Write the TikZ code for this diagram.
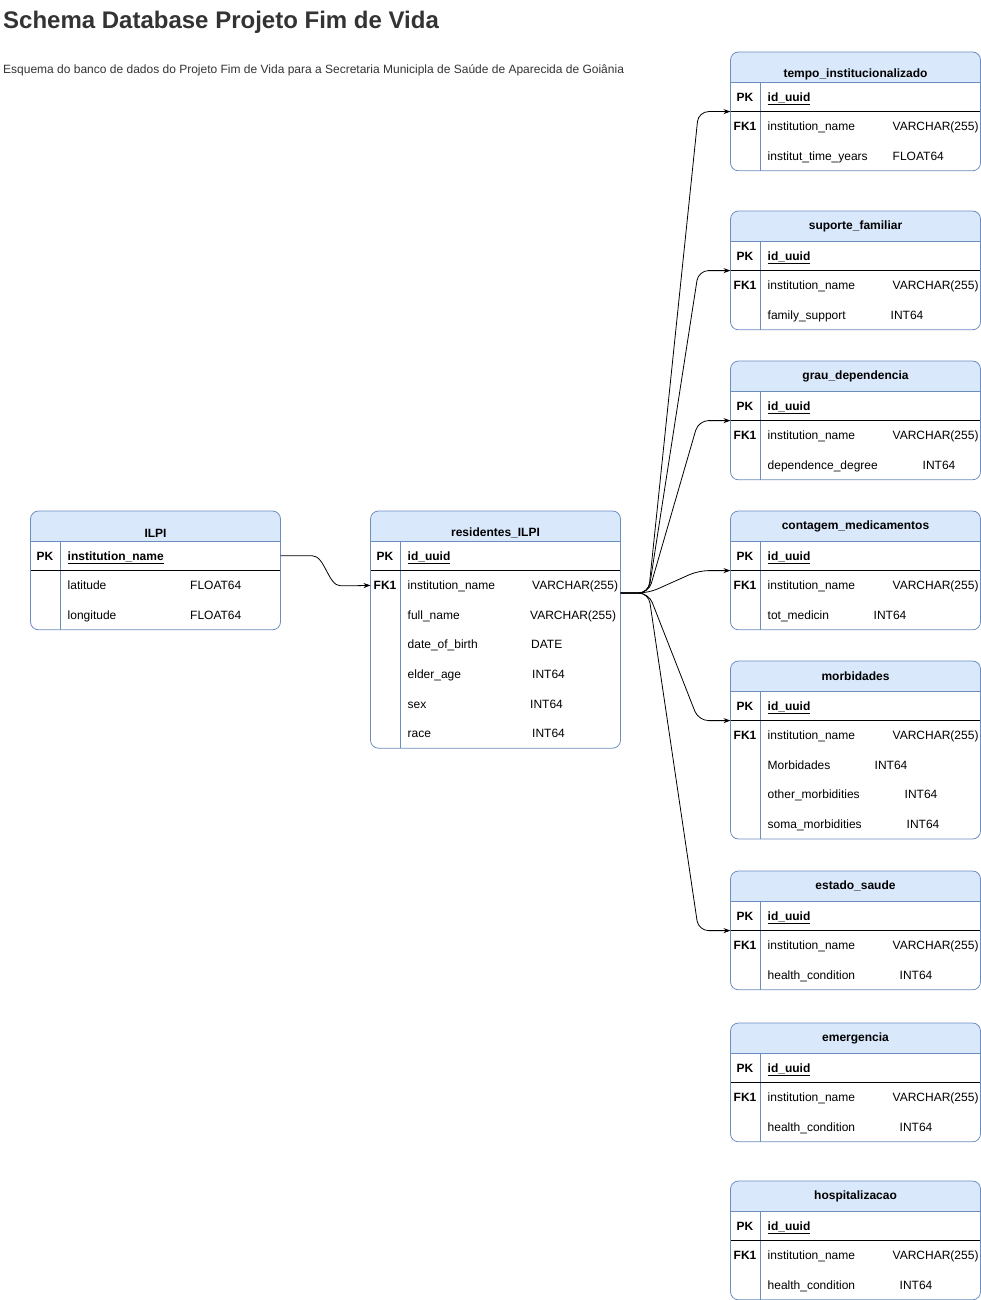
\documentclass[tikz,border=0pt]{standalone}
\usepackage{fontspec}
\setmainfont{Liberation Sans}
\usetikzlibrary{arrows.meta}
\definecolor{hdrfill}{HTML}{DAE8FC}
\definecolor{hdrdraw}{HTML}{6C8EBF}
\definecolor{txtgray}{HTML}{333333}
\tikzstyle{erline} = [draw=hdrdraw, line width=0.8pt]
\tikzstyle{ertitle} = [font=\fontsize{12}{14}\selectfont\bfseries, inner sep=0pt]
\tikzstyle{erkey} = [font=\fontsize{12}{14}\selectfont\bfseries, inner sep=0pt,
text height=9pt, text depth=0.5pt]
\tikzstyle{erfield} = [font=\fontsize{12}{14}\selectfont, anchor=west, inner sep=0pt,
text height=9pt, text depth=0.5pt]
\tikzstyle{fk} = [line width=0.8pt, -{Stealth[length=7pt,width=5pt]}, rounded corners=10pt]

% id, left x, top y, rows, title, title dy, pk field, other rows
\newcommand{\ertable}[8]{%
\pgfmathsetmacro\erbot{#3+30+29.6*#4}
\begin{scope}
\clip[rounded corners=8pt] (#2,#3) rectangle (#2+250,\erbot);
\fill[hdrfill] (#2,#3) rectangle (#2+250,#3+30);
\end{scope}
\draw[erline] (#2,#3+30) -- (#2+250,#3+30);
\draw[erline] (#2+29.5,#3+30) -- (#2+29.5,\erbot);
\draw[line width=0.8pt] (#2,#3+59.6) -- (#2+250,#3+59.6);
\draw[erline, rounded corners=8pt] (#2,#3) rectangle (#2+250,\erbot);
\node (#1-title)[ertitle] at (#2+125,#3+#6) {#5};
\node (#1-pkkey)[erkey] at (#2+14.5,#3+44.8) {PK};
\node (#1-pkname)[erfield, font=\fontsize{12}{14}\selectfont\bfseries] at (#2+37,#3+44.8) {\underline{#7}};
\foreach \ky/\fd/\ty/\dx [count=\i] in {#8}{
\node[erkey] at (#2+14.5,#3+44.8+29.6*\i) {\ky};
\node[erfield] at (#2+37,#3+44.8+29.6*\i) {\fd};
\node[erfield] at (#2+\dx,#3+44.8+29.6*\i) {\ty};
}
\coordinate (#1-pk) at (#2+250,#3+44.8);
\coordinate (#1-fk) at (#2,#3+74.4);
\coordinate (#1-in) at (#2,#3+59.6);
\coordinate (#1-out) at (#2+250,#3+82);
}

\begin{document}
\begin{tikzpicture}[x=1pt, y=-1pt]
\useasboundingbox (0,0) rectangle (981,1300);

\node (title)[anchor=base west, font=\fontsize{24}{28}\selectfont\bfseries, text=txtgray,
inner sep=0pt] at (3,29) {Schema Database Projeto Fim de Vida};
\node (subtitle)[anchor=base west, font=\fontsize{12}{14}\selectfont, text=txtgray,
inner sep=0pt] at (3,74) {Esquema do banco de dados do Projeto Fim de Vida para a Secretaria Municipla de Saúde de Aparecida de Goiânia};

\ertable{ilpi}{30.5}{511}{3}{ILPI}{22}{institution\_name}{{}/latitude/FLOAT64/159.5,
{}/longitude/FLOAT64/159.5}
\ertable{resid}{370.5}{511}{7}{residentes\_ILPI}{22}{id\_uuid}{FK1/institution\_name/VARCHAR(255)/161.5,
{}/full\_name/VARCHAR(255)/159.5, {}/date\_of\_birth/DATE/160.5, {}/elder\_age/INT64/161.5,
{}/sex/INT64/159.5, {}/race/INT64/161.5}

\ertable{tempo}{730.5}{52}{3}{tempo\_institucionalizado}{22}{id\_uuid}{FK1/institution\_name/VARCHAR(255)/162,
{}/institut\_time\_years/FLOAT64/162}
\ertable{suporte}{730.5}{211}{3}{suporte\_familiar}{15}{id\_uuid}{FK1/institution\_name/VARCHAR(255)/162,
{}/family\_support/INT64/160}
\ertable{grau}{730.5}{361}{3}{grau\_dependencia}{15}{id\_uuid}{FK1/institution\_name/VARCHAR(255)/162,
{}/dependence\_degree/INT64/192}
\ertable{contagem}{730.5}{511}{3}{contagem\_medicamentos}{15}{id\_uuid}{FK1/institution\_name/VARCHAR(255)/162,
{}/tot\_medicin/INT64/143}
\ertable{morb}{730.5}{661}{5}{morbidades}{15}{id\_uuid}{FK1/institution\_name/VARCHAR(255)/162,
{}/Morbidades/INT64/144, {}/other\_morbidities/INT64/174, {}/soma\_morbidities/INT64/176}
\ertable{estado}{730.5}{871}{3}{estado\_saude}{15}{id\_uuid}{FK1/institution\_name/VARCHAR(255)/162,
{}/health\_condition/INT64/169}
\ertable{emerg}{730.5}{1023}{3}{emergencia}{15}{id\_uuid}{FK1/institution\_name/VARCHAR(255)/162,
{}/health\_condition/INT64/169}
\ertable{hosp}{730.5}{1181}{3}{hospitalizacao}{15}{id\_uuid}{FK1/institution\_name/VARCHAR(255)/162,
{}/health\_condition/INT64/169}

% foreign keys
\draw[fk] (ilpi-pk) -- ++(22,0) to[out=0,in=180] ++(48,30) -- (resid-fk);
\foreach \tg in {tempo, suporte, grau, contagem, morb, estado}
\draw[fk] (resid-out) -- ++(28,0) -- ([xshift=-32pt]\tg-in) -- (\tg-in);

\end{tikzpicture}
\end{document}
